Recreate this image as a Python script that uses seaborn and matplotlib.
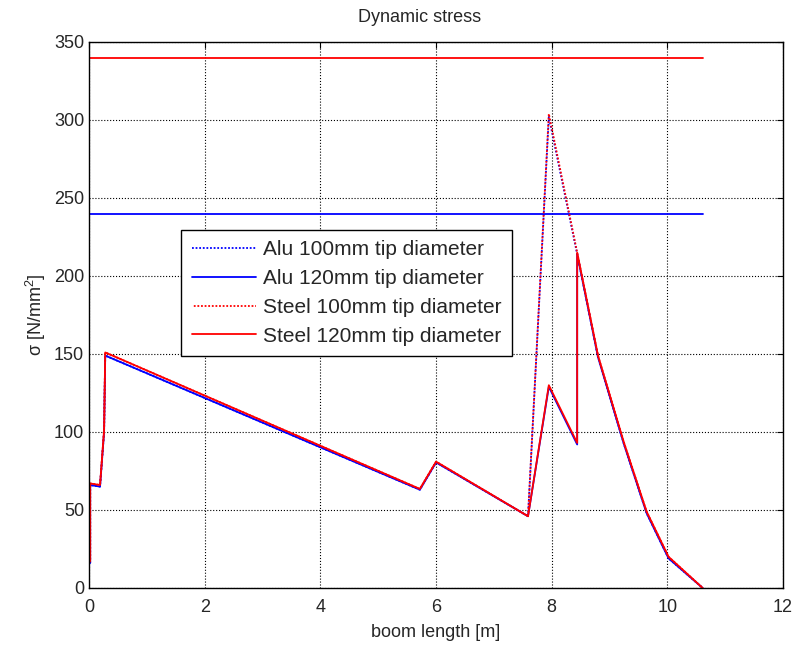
import numpy as np
import pandas as pd
import seaborn as sns
import matplotlib
matplotlib.use('Agg')
import matplotlib.pyplot as plt

# boom positions [m] for the two tip diameters
x_100 = [0.02, 0.02, 0.19, 0.26, 0.28, 5.72, 6.0, 7.59, 7.95, 8.44, 8.8, 9.25, 9.64, 10.02, 10.61]
x_120 = [0.02, 0.02, 0.19, 0.26, 0.28, 5.72, 6.0, 7.59, 7.95, 8.44, 8.44, 8.8, 9.25, 9.64, 10.02, 10.61]

# dynamic stress [N/mm^2]
alu_100 = [16, 66, 65, 100, 149, 63, 80.5, 46, 302, 214, 148, 92, 48, 19, 0]
alu_120 = [16, 66, 65, 100, 149, 63, 80.5, 46, 129, 92, 214, 148, 92, 48, 19, 0]
steel_100 = [17, 67, 66, 101, 151, 63.5, 81, 46, 304, 215, 149, 93, 49, 20, 0]
steel_120 = [17, 67, 66, 101, 151, 63.5, 81, 46, 130, 93, 215, 149, 93, 49, 20, 0]

# allowable stress limits
limit_x = [0, 10.61]
alu_limit = [240, 240]
steel_limit = [340, 340]

sns.set_style('white')
plt.rcParams['font.family'] = ['Liberation Sans', 'DejaVu Sans']
plt.rcParams['mathtext.fontset'] = 'custom'
plt.rcParams['mathtext.rm'] = 'Liberation Sans'

fig = plt.figure(figsize=(7.95, 6.48), dpi=100)
ax = fig.add_axes([0.112, 0.0926, 0.873, 0.8426])

sns.lineplot(x=limit_x, y=steel_limit, color='red', lw=1.3, legend=False, ax=ax)
sns.lineplot(x=limit_x, y=alu_limit, color='blue', lw=1.3, legend=False, ax=ax)

# dotted patterns offset so red and blue dots interleave like the original
series = [
    (x_100, alu_100, 'blue', (0, (1, 1)), 'Alu 100mm tip diameter'),
    (x_120, alu_120, 'blue', '-', 'Alu 120mm tip diameter'),
    (x_100, steel_100, 'red', (1, (1, 1)), 'Steel 100mm tip diameter'),
    (x_120, steel_120, 'red', '-', 'Steel 120mm tip diameter'),
]
for xs, ys, c, ls, lab in series:
    sns.lineplot(x=xs, y=ys, color=c, linestyle=ls, lw=1.3, label=lab,
                 sort=False, estimator=None, ax=ax)

ax.set_xlim(0, 12)
ax.set_ylim(0, 350)
ax.set_xticks(np.arange(0, 13, 2))
ax.set_yticks(np.arange(0, 351, 50))
ax.grid(True, linestyle=':', color='black', linewidth=0.8)
ax.tick_params(direction='in', top=True, right=True, length=4, labelsize=13, color='black')
ax.tick_params(axis='x', pad=8)
for s in ax.spines.values():
    s.set_color('black')
    s.set_linewidth(1.0)

fig.text(420 / 795, 1 - 18 / 648, 'Dynamic stress', fontsize=13, ha='center', va='center')
ax.set_xlabel('boom length [m]', fontsize=13, labelpad=6)
ax.set_ylabel(r'σ [N/mm$^2$]', fontsize=13)

leg = ax.legend(loc='upper left', bbox_to_anchor=(0.133, 0.656), borderaxespad=0,
                fontsize=15, frameon=True, fancybox=False, framealpha=1,
                edgecolor='black', handlelength=3.1, handletextpad=0.34,
                labelspacing=0.47, borderpad=0.5)
leg.get_frame().set_linewidth(1.0)

fig.savefig('out.png', dpi=100)
